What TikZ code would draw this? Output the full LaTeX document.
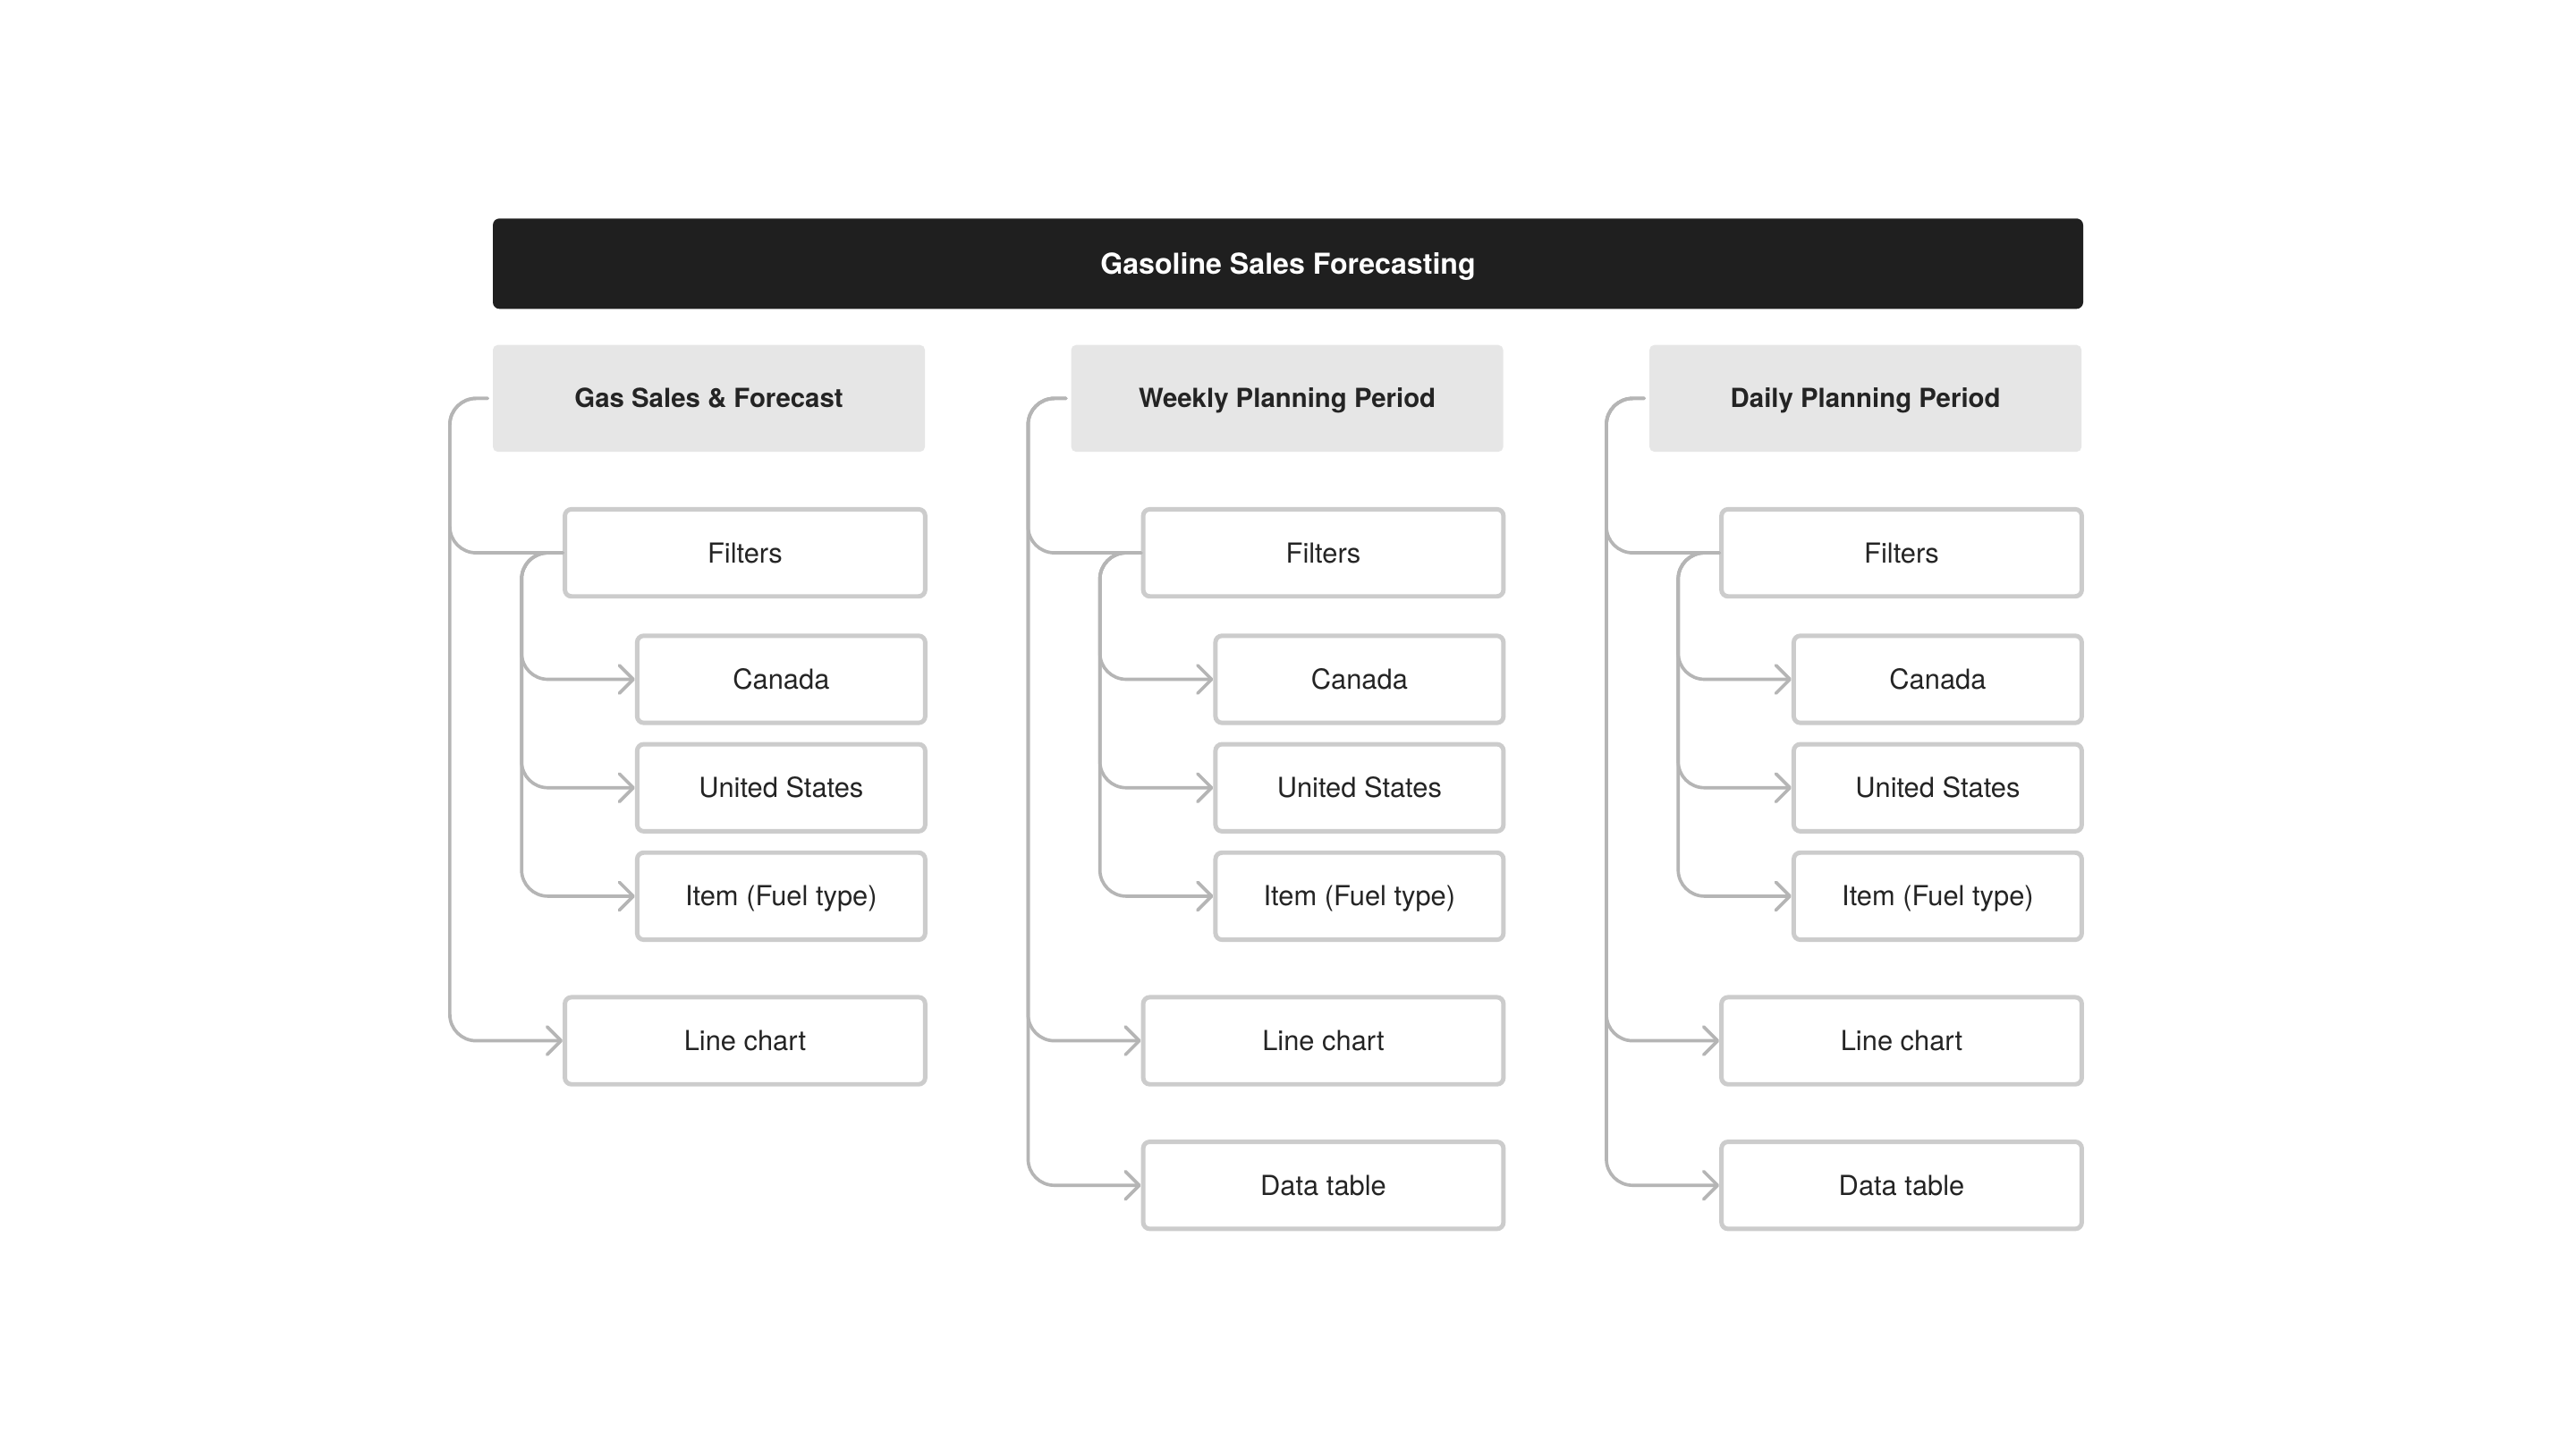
\documentclass[tikz,border=0pt]{standalone}
\usepackage{fontspec}
\setmainfont{TeX Gyre Heros}
\usetikzlibrary{arrows.meta}
\definecolor{titlebg}{HTML}{1F1F1F}
\definecolor{headbg}{HTML}{E6E6E6}
\definecolor{boxline}{HTML}{CCCCCC}
\definecolor{connline}{HTML}{B5B5B5}
\definecolor{txt}{HTML}{242424}
\begin{document}
\begin{tikzpicture}[x=1pt,y=-1pt,
 titlebox/.style={fill=titlebg, rounded corners=4pt, minimum width=968pt, minimum height=55pt, inner sep=0pt, text=white, text height=12.6pt, text depth=0pt, font=\fontsize{17.5}{20}\selectfont\bfseries},
 headbox/.style={fill=headbg, rounded corners=3pt, minimum width=263pt, minimum height=65pt, inner sep=0pt, text=txt, text height=11.5pt, text depth=0pt, font=\fontsize{16}{19}\selectfont\bfseries},
 itembox/.style={draw=boxline, line width=2.7pt, fill=white, rounded corners=4pt, minimum height=53pt, inner sep=0pt, text=txt, text height=12pt, text depth=0pt, font=\fontsize{16.8}{19}\selectfont},
 widebox/.style={itembox, minimum width=219.3pt},
 narrowbox/.style={itembox, minimum width=175.3pt},
 conn/.style={draw=connline, line width=2pt, rounded corners=16pt, line cap=round},
 arr/.style={conn, -{Straight Barb[length=8.5pt,width=17pt,round]}},
]
\useasboundingbox (0,0) rectangle (1568,882);
\fill[white] (0,0) rectangle (1568,882);

\node[titlebox] (title) at (784,160.5) {Gasoline Sales Forecasting};

\foreach \c/\dx/\hd in {1/0/{Gas Sales \& Forecast},2/352/{Weekly Planning Period},3/704/{Daily Planning Period}}{
  \node[headbox] (h\c) at (431.5+\dx,242.5) {\hd};
  \node[widebox] (f\c) at (453.5+\dx,336.5) {Filters};
  \node[narrowbox] (ca\c) at (475.5+\dx,413.5) {Canada};
  \node[narrowbox] (us\c) at (475.5+\dx,479.5) {United States};
  \node[narrowbox] (it\c) at (475.5+\dx,545.5) {Item (Fuel type)};
  \node[widebox] (lc\c) at (453.5+\dx,633.5) {Line chart};
  \draw[conn] ([xshift=-3pt]h\c.west) -- ++(-23,0) |- (f\c.west);
  \draw[arr] ([xshift=-3pt]h\c.west) -- ++(-23,0) |- (lc\c.west);
  \draw[arr] (f\c.west) -- ++(-25,0) |- (ca\c.west);
  \draw[arr] (f\c.west) -- ++(-25,0) |- (us\c.west);
  \draw[arr] (f\c.west) -- ++(-25,0) |- (it\c.west);
}
\node[widebox] (dt2) at (805.5,721.5) {Data table};
\node[widebox] (dt3) at (1157.5,721.5) {Data table};
\draw[arr] ([xshift=-3pt]h2.west) -- ++(-23,0) |- (dt2.west);
\draw[arr] ([xshift=-3pt]h3.west) -- ++(-23,0) |- (dt3.west);
\end{tikzpicture}
\end{document}
